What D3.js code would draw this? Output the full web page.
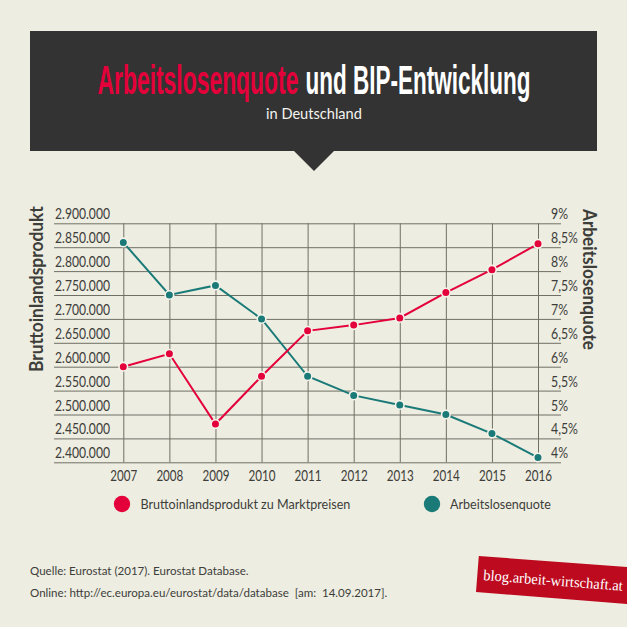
<!DOCTYPE html>
<html><head><meta charset="utf-8">
<script src="https://cdnjs.cloudflare.com/ajax/libs/d3/7.8.5/d3.min.js"></script>
<style>html,body{margin:0;padding:0;background:#edede1}svg{display:block}text{font-family:Lato,"Noto Sans",sans-serif}</style>
</head><body><svg id="c" width="627" height="627"></svg>
<script>
const years=[2007,2008,2009,2010,2011,2012,2013,2014,2015,2016];
const bip=[2600000,2627000,2480000,2580000,2675000,2687000,2702000,2755000,2803000,2857000];
const quote=[8.6,7.5,7.7,7.0,5.8,5.4,5.2,5.0,4.6,4.1];
const bipTicks=[2400000,2450000,2500000,2550000,2600000,2650000,2700000,2750000,2800000,2850000,2900000];
const quoteTicks=[4,4.5,5,5.5,6,6.5,7,7.5,8,8.5,9];
const RED="#e4003a",TEAL="#1a7a78",BG="#edede1",INK="#3d3d3a",GRID="#6f6f66";
const svg=d3.select("#c");
svg.append("rect").attr("width",627).attr("height",627).attr("fill",BG);
// squeeze a text to a measured width through a transform, so its real box matches what is drawn
const fit=(s,l,base="")=>{
  const w=s.node().getComputedTextLength();
  const x0=+s.attr("x")||0, y0=+s.attr("y")||0;
  s.attr("x",null).attr("y",null)
   .attr("transform",`${base} translate(${x0},${y0}) scale(${l/w},1)`);
  return s;
};

// header
svg.append("rect").attr("x",30).attr("y",31).attr("width",567).attr("height",120).attr("fill","#333333");
svg.append("path").attr("d","M294,151L334,151L314,171Z").attr("fill","#333333");
const TF='"Liberation Sans Narrow","Liberation Sans",sans-serif';
fit(svg.append("text").attr("x",97.5).attr("y",94).attr("fill",RED).style("font-family",TF).attr("font-weight",700).attr("font-size",41).text("Arbeitslosenquote"),201);
fit(svg.append("text").attr("x",305.5).attr("y",94).attr("fill","#fff").style("font-family",TF).attr("font-weight",700).attr("font-size",41).text("und BIP-Entwicklung"),225);
fit(svg.append("text").attr("x",266).attr("y",119).attr("fill","#f4f4f0").attr("font-size",14.5).text("in Deutschland"),96);

// scales
const x=d3.scalePoint().domain(years).range([123.3,538]);
const yL=d3.scaleLinear().domain([2400000,2900000]).range([462.3,223.3]);
const yR=d3.scaleLinear().domain([4,9]).range([462.3,223.3]);
const fmtDe=d=>d3.format(",")(d).replace(/,/g,".");
const fmtPct=d=>String(d).replace(".",",")+"%";

// horizontal grid + left labels
const gL=svg.append("g").attr("transform","translate(54,0)").call(d3.axisRight(yL).tickValues(bipTicks).tickSize(507).tickFormat(fmtDe));
gL.select(".domain").remove();
gL.selectAll("line").attr("stroke",GRID).attr("stroke-width",1);
gL.selectAll("text").attr("x",1).attr("dy",0).attr("y",-4.5).attr("text-anchor","start").attr("fill",INK).attr("font-size",14.5).style("font-family","Lato").each(function(){fit(d3.select(this),55)});

// right labels
const gR=svg.append("g").attr("transform","translate(551,0)").call(d3.axisRight(yR).tickValues(quoteTicks).tickSize(0).tickPadding(0).tickFormat(fmtPct));
gR.select(".domain").remove();
gR.selectAll("text").attr("dy",0).attr("y",-4.5).attr("text-anchor","start").attr("fill",INK).attr("font-size",14.5).each(function(d){fit(d3.select(this),Number.isInteger(d)?17:27)});

// vertical grid + year labels
const gX=svg.append("g").attr("transform","translate(0,462.3)").call(d3.axisBottom(x).tickSize(-239).tickPadding(0).tickFormat(d3.format("d")));
gX.select(".domain").remove();
gX.selectAll("line").attr("stroke",GRID).attr("stroke-width",1);
gX.selectAll("text").attr("dy",0).attr("y",18.5).attr("x",-13.5).attr("text-anchor","start").attr("fill",INK).attr("font-size",14.5).each(function(){fit(d3.select(this),27)});

// series
const series=[{v:bip,y:yL,c:RED},{v:quote,y:yR,c:TEAL}];
series.slice().reverse().forEach(s=>{
  const pts=years.map((yr,i)=>[x(yr),s.y(s.v[i])]);
  svg.append("path").attr("d",d3.line()(pts)).attr("fill","none").attr("stroke",s.c).attr("stroke-width",2);
  svg.append("g").selectAll("circle").data(pts).join("circle")
    .attr("cx",d=>d[0]).attr("cy",d=>d[1]).attr("r",4.3)
    .attr("fill",s.c).attr("stroke","#f3f3ea").attr("stroke-width",1.6);
});

// axis titles
fit(svg.append("text").attr("fill",INK).attr("font-weight",700).attr("font-size",18.5).text("Bruttoinlandsprodukt"),166,"translate(43,372) rotate(-90)");
fit(svg.append("text").attr("fill",INK).attr("font-weight",700).attr("font-size",18.5).text("Arbeitslosenquote"),141,"translate(583,209) rotate(90)");

// legend
const legendNames=["Bruttoinlandsprodukt zu Marktpreisen","Arbeitslosenquote"];
[[122,140.5,210],[432,450,101]].forEach((p,i)=>{
  svg.append("circle").attr("cx",p[0]).attr("cy",504).attr("r",8.2).attr("fill",i?TEAL:RED);
  fit(svg.append("text").attr("x",p[1]).attr("y",509).attr("fill",INK).attr("font-size",14).text(legendNames[i]),p[2]);
});

// source
fit(svg.append("text").attr("x",30).attr("y",575).attr("fill",INK).attr("font-size",11.5).text("Quelle: Eurostat (2017). Eurostat Database."),219);
fit(svg.append("text").attr("x",30).attr("y",597).attr("fill",INK).attr("font-size",11.5).style("white-space","pre").text("Online: http://ec.europa.eu/eurostat/data/database  [am:  14.09.2017]."),358);

// badge
svg.append("path").attr("d","M478.8,556L627,567L627,604L476,592Z").attr("fill","#bd0a1e");
fit(svg.append("text").attr("fill","#fff").style("font-family",'"Liberation Serif",serif').attr("font-size",15).text("blog.arbeit-wirtschaft.at"),140,"translate(483,580) rotate(4.4)");
</script></body></html>
